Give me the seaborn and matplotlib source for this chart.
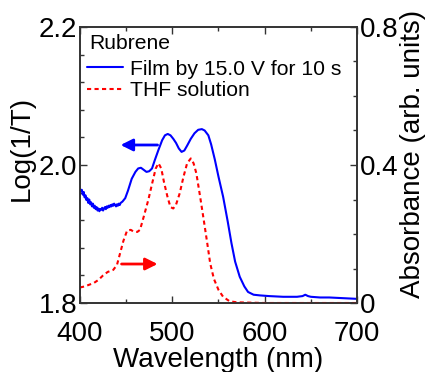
import numpy as np
import pandas as pd
import matplotlib
matplotlib.use("Agg")
import matplotlib.pyplot as plt
import seaborn as sns
from matplotlib.ticker import MultipleLocator, FixedLocator, FixedFormatter

# ---- data ----
film_wl = [400, 401, 402, 403, 404, 405, 406, 407, 408, 409, 410, 411, 412, 413, 414, 415,
           416, 417, 418, 419, 420, 421, 422, 423, 424, 425, 426, 427, 428, 429, 430, 431,
           432, 433, 434, 435, 436, 437, 438, 439, 440, 441, 442, 443, 444, 446, 449, 452,
           456, 460, 463, 466, 469, 472, 475, 478, 481, 485,
           489, 492, 495, 498, 501, 504, 507, 510, 513, 516, 520, 524, 528, 532, 535, 539,
           542, 546, 550, 555, 560, 564, 568, 573, 578, 582, 588, 595, 605, 620, 635, 641,
           644, 647, 650, 660, 670, 685, 700]
film_val = [1.966, 1.962, 1.964, 1.957, 1.961, 1.953, 1.956, 1.949, 1.952, 1.945, 1.950, 1.943,
            1.946, 1.940, 1.944, 1.938, 1.941, 1.936, 1.939, 1.934, 1.937, 1.933, 1.936, 1.935,
            1.938, 1.934, 1.937, 1.939, 1.936, 1.940, 1.938, 1.941, 1.939, 1.942, 1.940, 1.943,
            1.941, 1.944, 1.942, 1.940, 1.943, 1.941, 1.944, 1.942, 1.945, 1.947, 1.952, 1.963,
            1.980, 1.990, 1.995, 1.996, 1.993, 1.990, 1.991, 1.995, 2.007, 2.022,
            2.036, 2.043, 2.045, 2.043, 2.038, 2.032, 2.024, 2.019, 2.021, 2.028, 2.038, 2.046,
            2.051, 2.052, 2.050, 2.043, 2.030, 2.008, 1.983, 1.954, 1.918, 1.887, 1.860, 1.838,
            1.824, 1.816, 1.812, 1.811, 1.810, 1.809, 1.809, 1.810, 1.812, 1.810, 1.809, 1.808,
            1.808, 1.807, 1.806]

thf_wl = [400, 405, 410, 415, 420, 425, 430, 436, 440, 443, 447, 451, 455, 458, 462, 465, 469,
          474, 478, 482, 485, 488, 491, 495, 498, 501, 504, 508, 512, 516, 520, 523, 526, 530,
          534, 538, 541, 545, 550, 555, 562, 570, 600, 700]
thf_val = [0.045, 0.048, 0.053, 0.058, 0.067, 0.080, 0.090, 0.096, 0.110, 0.140, 0.180, 0.210,
           0.212, 0.207, 0.206, 0.212, 0.250, 0.299, 0.345, 0.390, 0.405, 0.390, 0.350, 0.305,
           0.278, 0.274, 0.285, 0.318, 0.365, 0.405, 0.419, 0.405, 0.376, 0.310, 0.241, 0.170,
           0.115, 0.070, 0.038, 0.018, 0.005, 0.002, 0.0, 0.0]

left_ticks = [1.8, 2.0, 2.2]
left_labels = ["1.8", "2.0", "2.2"]
right_ticks = [0, 0.4, 0.8]
right_labels = ["0", "0.4", "0.8"]
x_ticks = [400, 500, 600, 700]

film_label = "Film by 15.0 V for 10 s"
thf_label = "THF solution"
legend_title = "Rubrene"

# ---- style ----
sns.set_style("ticks")
plt.rcParams['font.family'] = ['Liberation Sans', 'DejaVu Sans']
plt.rcParams['text.color'] = 'black'
plt.rcParams['axes.labelcolor'] = 'black'
plt.rcParams['xtick.color'] = 'black'
plt.rcParams['ytick.color'] = 'black'

fig = plt.figure(figsize=(4.28, 3.72), dpi=100)
ax = fig.add_axes([80/428, 1-303/372, (357-80)/428, (303-27)/372])
ax2 = ax.twinx()

film_df = pd.DataFrame({"wl": film_wl, "val": film_val})
thf_df = pd.DataFrame({"wl": thf_wl, "val": thf_val})

sns.lineplot(data=film_df, x="wl", y="val", ax=ax, color="#0000ff", lw=1.5,
             label=film_label, legend=False)
sns.lineplot(data=thf_df, x="wl", y="val", ax=ax2, color="#ff0000", lw=1.5,
             linestyle=(0, (2, 1.6)), label=thf_label, legend=False)

ax.set_xlim(400, 700)
ax.set_ylim(1.8, 2.2)
ax2.set_ylim(0, 0.8)

ax.xaxis.set_major_locator(FixedLocator(x_ticks))
ax.xaxis.set_minor_locator(MultipleLocator(50))
ax.yaxis.set_major_locator(FixedLocator(left_ticks))
ax.yaxis.set_major_formatter(FixedFormatter(left_labels))
ax.yaxis.set_minor_locator(MultipleLocator(0.04))
ax2.yaxis.set_major_locator(FixedLocator(right_ticks))
ax2.yaxis.set_major_formatter(FixedFormatter(right_labels))
ax2.yaxis.set_minor_locator(MultipleLocator(0.1))

fs = 20
ax.tick_params(axis="x", which="both", direction="in", top=True, labelsize=fs, pad=13)
ax.tick_params(axis="y", which="both", direction="in", right=False, labelsize=fs, pad=2)
ax.tick_params(which="major", length=5, width=1, color="#333333", labelcolor="black")
ax.tick_params(which="minor", length=3, width=1, color="#333333")
ax2.tick_params(axis="y", which="both", direction="in", labelsize=fs, pad=2)
ax2.tick_params(which="major", length=5, width=1, color="#333333", labelcolor="black")
ax2.tick_params(which="minor", length=3, width=1, color="#333333")

for a in (ax, ax2):
    for s in a.spines.values():
        s.set_linewidth(1.2)
        s.set_color("#333333")
        s.set_visible(True)

ax.set_xlabel("Wavelength (nm)", fontsize=fs, labelpad=0, color="black")
ax.set_ylabel("Log(1/T)", fontsize=fs, color="black")
ax.yaxis.set_label_coords(-0.162, 0.56)
ax2.set_ylabel("Absorbance (arb. units)", fontsize=fs, color="black")
ax2.yaxis.set_label_coords(1.157, 0.54)

# arrows
ax.annotate("", xy=(444, 2.029), xytext=(484, 2.029),
            arrowprops=dict(arrowstyle="-|>", color="#0000ff", lw=2, mutation_scale=18,
                            shrinkA=0, shrinkB=0))
ax2.annotate("", xy=(484, 0.113), xytext=(445, 0.113),
             arrowprops=dict(arrowstyle="-|>", color="#ff0000", lw=2, mutation_scale=18,
                             shrinkA=0, shrinkB=0))

ax2.text(0.032, 0.94, legend_title, transform=ax2.transAxes, fontsize=15.2,
         ha="left", va="center", color="black")

h1, l1 = ax.get_legend_handles_labels()
h2, l2 = ax2.get_legend_handles_labels()
leg = ax2.legend(h1 + h2, l1 + l2, loc="upper left",
                 bbox_to_anchor=(0.025, 0.882), frameon=False, fontsize=15.2,
                 handlelength=1.7, handletextpad=0.33,
                 labelspacing=0.12, borderaxespad=0, borderpad=0)
for t in leg.get_texts():
    t.set_color("black")

fig.savefig("out.png", dpi=100)
